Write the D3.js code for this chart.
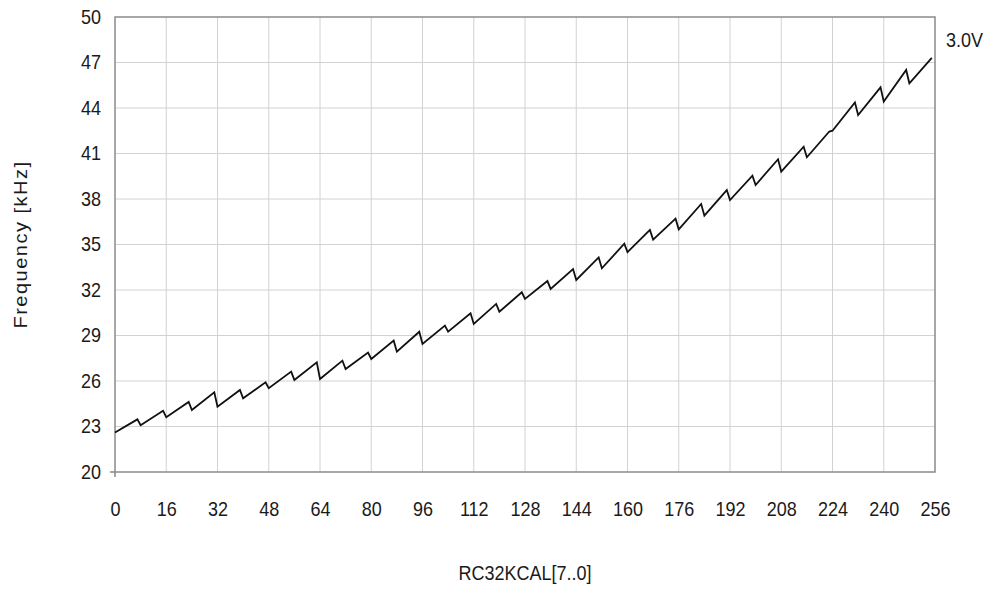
<!DOCTYPE html>
<html>
<head>
<meta charset="utf-8">
<script src="https://cdn.jsdelivr.net/npm/d3@7"></script>
<style>
  html, body { margin: 0; padding: 0; background: #fff; }
  svg { display: block; font-family: "Liberation Sans", Arial, sans-serif; }
</style>
</head>
<body>
<svg id="chart" width="987" height="590"></svg>
<script>
// RC32KCAL code (vertices of the sawtooth curve)
const calCodes = [0, 7, 8, 15, 16, 23, 24, 31, 32, 39, 40, 47, 48, 55, 56, 63, 64,
  71, 72, 79, 80, 87, 88, 95, 96, 103, 104, 111, 112, 119, 120, 127, 128,
  135, 136, 143, 144, 151, 152, 159, 160, 167, 168, 175, 176, 183, 184, 191, 192,
  199, 200, 207, 208, 215, 216, 223, 224, 231, 232, 239, 240, 247, 248, 255];
// Frequency [kHz] at 3.0V
const freq3V = [22.6, 23.47, 23.08, 24.04, 23.61, 24.62, 24.09, 25.25, 24.31, 25.41, 24.86, 25.91, 25.52, 26.62, 26.07, 27.23, 26.13,
  27.34, 26.79, 27.87, 27.45, 28.66, 27.93, 29.25, 28.44, 29.65, 29.25, 30.46, 29.76, 31.08, 30.57, 31.85, 31.41,
  32.59, 32.07, 33.38, 32.66, 34.15, 33.43, 35.05, 34.5, 35.96, 35.32, 36.7, 36.0, 37.67, 36.9, 38.59, 37.93,
  39.54, 38.92, 40.62, 39.8, 41.45, 40.75, 42.45, 42.5, 44.37, 43.54, 45.36, 44.42, 46.51, 45.63, 47.3];
const seriesLabel = "3.0V";
const xTicks = [0, 16, 32, 48, 64, 80, 96, 112, 128, 144, 160, 176, 192, 208, 224, 240, 256];
const yTicks = [20, 23, 26, 29, 32, 35, 38, 41, 44, 47, 50];
const xTitle = "RC32KCAL[7..0]";
const yTitle = "Frequency [kHz]";

const svg = d3.select("#chart");
const pL = 115, pR = 935, pT = 17, pB = 472;
const FS = 20, SX = 0.9;   // font size, horizontal condensing
const txtCol = "#1a1a1a";

const x = d3.scaleLinear().domain([0, 256]).range([pL, pR]);
const y = d3.scaleLinear().domain([20, 50]).range([pB, pT]);

// gridlines
svg.append("g").selectAll("line").data(xTicks.slice(1, -1)).join("line")
  .attr("x1", d => x(d)).attr("x2", d => x(d))
  .attr("y1", pT).attr("y2", pB)
  .attr("stroke", "#d2d2d2").attr("stroke-width", 1);
svg.append("g").selectAll("line").data(yTicks.slice(1, -1)).join("line")
  .attr("y1", d => y(d)).attr("y2", d => y(d))
  .attr("x1", pL).attr("x2", pR)
  .attr("stroke", "#d2d2d2").attr("stroke-width", 1);

// frame
svg.append("rect")
  .attr("x", pL).attr("y", pT)
  .attr("width", pR - pL).attr("height", pB - pT)
  .attr("fill", "none").attr("stroke", "#8a8a8a").attr("stroke-width", 1.5);

// origin ticks
svg.append("line").attr("x1", pL).attr("x2", pL).attr("y1", pB).attr("y2", pB + 5)
  .attr("stroke", "#8a8a8a").attr("stroke-width", 1.5);
svg.append("line").attr("x1", pL - 5).attr("x2", pL).attr("y1", pB).attr("y2", pB)
  .attr("stroke", "#8a8a8a").attr("stroke-width", 1.5);

// axes (labels only)
const xAxis = d3.axisBottom(x).tickValues(xTicks).tickSize(0).tickPadding(0);
const gx = svg.append("g").attr("transform", `translate(0,${pB})`).call(xAxis);
gx.select(".domain").remove();
gx.selectAll("text")
  .attr("font-size", FS).attr("fill", txtCol)
  .attr("font-family", "Liberation Sans, Arial, sans-serif")
  .attr("y", 0).attr("dy", "0.35em")
  .attr("transform", `translate(0,37) scale(${SX},1)`);

const yAxis = d3.axisLeft(y).tickValues(yTicks).tickSize(0).tickPadding(0);
const gy = svg.append("g").attr("transform", `translate(${pL},0)`).call(yAxis);
gy.select(".domain").remove();
gy.selectAll("text")
  .attr("font-size", FS).attr("fill", txtCol)
  .attr("font-family", "Liberation Sans, Arial, sans-serif")
  .attr("x", 0)
  .attr("transform", `translate(-14,0) scale(${SX},1)`);

// line
const data = calCodes.map((c, i) => ({ c, f: freq3V[i] }));
const line = d3.line().x(d => x(d.c)).y(d => y(d.f));
svg.append("path").datum(data)
  .attr("d", line)
  .attr("fill", "none").attr("stroke", "#111").attr("stroke-width", 1.8)
  .attr("stroke-linejoin", "miter");

// series label
svg.append("text")
  .attr("transform", `translate(946,47) scale(${SX},1)`)
  .attr("font-size", FS).attr("fill", txtCol)
  .text(seriesLabel);

// titles
svg.append("text")
  .attr("transform", `translate(${(pL + pR) / 2},580) scale(${SX},1)`)
  .attr("text-anchor", "middle").attr("font-size", FS).attr("fill", txtCol)
  .text(xTitle);
svg.append("text")
  .attr("transform", `translate(27,${(pT + pB) / 2}) rotate(-90) scale(1,${SX})`)
  .attr("text-anchor", "middle").attr("font-size", FS).attr("fill", txtCol)
  .attr("letter-spacing", 1.5)
  .text(yTitle);
</script>
</body>
</html>
